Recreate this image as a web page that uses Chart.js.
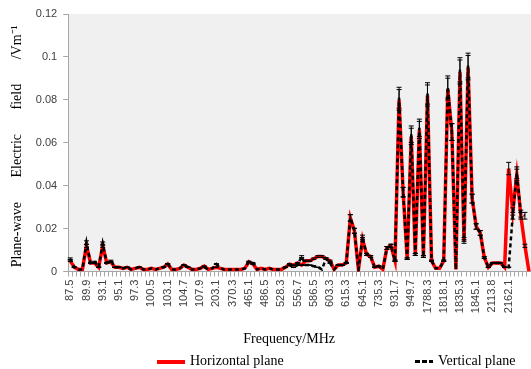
<!DOCTYPE html>
<html>
<head>
<meta charset="utf-8">
<script src="https://cdn.jsdelivr.net/npm/chart.js@4.4.0/dist/chart.umd.min.js"></script>
<style>
  html, body { margin: 0; padding: 0; background: #fff; }
  #wrap { position: relative; width: 531px; height: 369px; }
  #legend { position: absolute; left: 0; top: 352px; width: 531px; height: 17px; font: 14px "Liberation Serif"; color: #000; }
  .item { position: absolute; top: 0; white-space: nowrap; line-height: 17px; }
  .swatch { display: inline-block; vertical-align: middle; margin-right: 5px; }
</style>
</head>
<body>
<div id="wrap">
  <canvas id="myChart" width="531" height="369"></canvas>
  <div id="legend">
    <span class="item" style="left:157px"><span class="swatch" style="width:28px;height:4px;background:#ff0000"></span>Horizontal plane</span>
    <span class="item" style="left:415px"><span class="swatch" style="width:18px;height:3px;background:repeating-linear-gradient(90deg,#000 0 5px,transparent 5px 7px)"></span>Vertical plane</span>
  </div>
</div>
<script>
const ctx = document.getElementById("myChart").getContext("2d");

// one label every 4th category
const tickLabels = ['87.5', '89.9', '93.1', '95.1', '97.3', '100.5', '103.1', '104.7', '107.9', '203.1',
  '370.3', '465.1', '486.5', '528.3', '556.7', '586.5', '603.3', '615.3', '645.1', '735.3',
  '931.7', '949.7', '1788.3', '1818.1', '1835.3', '1845.1', '2113.8', '2162.1'];

const horizontal = [
  0.005, 0.002, 0.001, 0.001, 0.012, 0.004, 0.004, 0.002, 0.012, 0.004,
  0.0045, 0.002, 0.002, 0.0015, 0.002, 0.001, 0.0015, 0.002, 0.001, 0.001,
  0.0015, 0.001, 0.0015, 0.002, 0.0035, 0.001, 0.001, 0.0015, 0.003, 0.002,
  0.001, 0.001, 0.0015, 0.0025, 0.001, 0.0015, 0.002, 0.0015, 0.001, 0.001,
  0.001, 0.001, 0.001, 0.0015, 0.0045, 0.0035, 0.001, 0.0015, 0.001, 0.0015,
  0.001, 0.001, 0.001, 0.002, 0.0035, 0.003, 0.004, 0.003, 0.005, 0.005,
  0.006, 0.007, 0.007, 0.006, 0.005, 0.001, 0.003, 0.003, 0.004, 0.025,
  0.019, 0.001, 0.015, 0.008, 0.007, 0.002, 0.0025, 0.001, 0.011, 0.012,
  0.005, 0.080, 0.037, 0.006, 0.063, 0.008, 0.066, 0.007, 0.082, 0.005,
  0.0015, 0.0015, 0.005, 0.085, 0.065, 0.001, 0.093, 0.014, 0.095, 0.034,
  0.021, 0.018, 0.0065, 0.002, 0.004, 0.004, 0.004, 0.002, 0.048, 0.028,
  0.045, 0.026, 0.012, 0
];

const vertical = [
  0.006, 0.002, 0.001, 0.001, 0.0135, 0.004, 0.0045, 0.002, 0.013, 0.004,
  0.005, 0.002, 0.002, 0.0015, 0.002, 0.001, 0.0015, 0.002, 0.001, 0.001,
  0.0015, 0.001, 0.0015, 0.002, 0.0035, 0.001, 0.001, 0.0015, 0.003, 0.002,
  0.001, 0.001, 0.0015, 0.002, 0.001, 0.0015, 0.0035, 0.0015, 0.001, 0.001,
  0.001, 0.001, 0.001, 0.0015, 0.0045, 0.004, 0.001, 0.0015, 0.001, 0.0015,
  0.001, 0.001, 0.001, 0.002, 0.003, 0.002, 0.003, 0.007, 0.003, 0.003,
  0.0025, 0.002, 0.001, 0.006, 0.004, 0.001, 0.003, 0.003, 0.004, 0.025,
  0.019, 0.001, 0.016, 0.008, 0.007, 0.002, 0.0025, 0.001, 0.011, 0.012,
  0.005, 0.081, 0.037, 0.006, 0.064, 0.008, 0.067, 0.007, 0.083, 0.005,
  0.0015, 0.0015, 0.005, 0.086, 0.065, 0.001, 0.094, 0.015, 0.096, 0.034,
  0.021, 0.018, 0.0065, 0.002, 0.004, 0.004, 0.004, 0.002, 0.002, 0.026,
  0.046, 0.027, 0.026, null
];

// percentage error bars, as in the spreadsheet
const errPct = 0.06;

const labels = horizontal.map((v, i) => (i % 4 === 0 && tickLabels[i / 4]) ? tickLabels[i / 4] : '');

const plotBg = {
  id: 'plotBg',
  beforeDraw(chart) {
    const a = chart.chartArea;
    const c = chart.ctx;
    c.save();
    c.fillStyle = '#f0f0f0';
    c.fillRect(a.left, a.top, a.right - a.left, a.bottom - a.top);
    c.restore();
  }
};

const errorBars = {
  id: 'errorBars',
  afterDatasetsDraw(chart) {
    const c = chart.ctx;
    const x = chart.scales.x, y = chart.scales.y;
    c.save();
    c.strokeStyle = '#000';
    c.lineWidth = 1;
    chart.data.datasets.forEach(ds => {
      ds.data.forEach((v, i) => {
        if (v == null || v < 0.002) return;
        const px = x.getPixelForValue(i);
        const top = y.getPixelForValue(v * (1 + errPct));
        const bot = y.getPixelForValue(v * (1 - errPct));
        c.beginPath();
        c.moveTo(px, top); c.lineTo(px, bot);
        c.moveTo(px - 2.5, top); c.lineTo(px + 2.5, top);
        c.moveTo(px - 2.5, bot); c.lineTo(px + 2.5, bot);
        c.stroke();
      });
    });
    c.restore();
  }
};

const data = {
  labels,
  datasets: [{
    label: 'Horizontal plane',
    data: horizontal,
    borderColor: '#ff0000',
    borderWidth: 3.5,
    order: 2
  }, {
    label: 'Vertical plane',
    data: vertical,
    borderColor: '#000000',
    borderWidth: 2.5,
    borderDash: [4, 3],
    order: 1
  }]
};

const config = {
  type: 'line',
  data: data,
  options: {
    responsive: false,
    animation: false,
    layout: { padding: { top: 14, right: 0, bottom: 21, left: 9 } },
    elements: { point: { radius: 0 }, line: { tension: 0 } },
    plugins: { legend: { display: false }, tooltip: { enabled: false } },
    scales: {
      x: {
        offset: true,
        afterFit(scale) { scale.paddingRight = 0; scale.paddingLeft = 0; },
        grid: { display: true, drawOnChartArea: false, offset: true, color: '#a6a6a6', tickLength: 5 },
        border: { color: '#a6a6a6' },
        ticks: {
          autoSkip: false, minRotation: 90, maxRotation: 90, padding: 3,
          color: '#404040', font: { family: 'Liberation Sans', size: 11 }
        },
        title: {
          display: true, text: 'Frequency/MHz      ', color: '#000',
          font: { family: 'Liberation Serif', size: 14 }, padding: { top: 15, bottom: 0 }
        }
      },
      y: {
        min: 0, max: 0.12,
        grid: { display: true, drawOnChartArea: false, color: '#a6a6a6', tickLength: 5 },
        border: { color: '#a6a6a6' },
        ticks: {
          stepSize: 0.02, padding: 6, color: '#404040',
          font: { family: 'Liberation Sans', size: 11 },
          callback: v => String(+v.toFixed(2))
        },
        title: {
          display: true, text: 'Plane-wave       Electric       field       /Vm⁻¹  ', color: '#000',
          font: { family: 'Liberation Serif', size: 14 }, padding: { top: 0, bottom: 4 }
        }
      }
    }
  },
  plugins: [plotBg, errorBars]
};

const myChart = new Chart(ctx, config);
</script>
</body>
</html>
